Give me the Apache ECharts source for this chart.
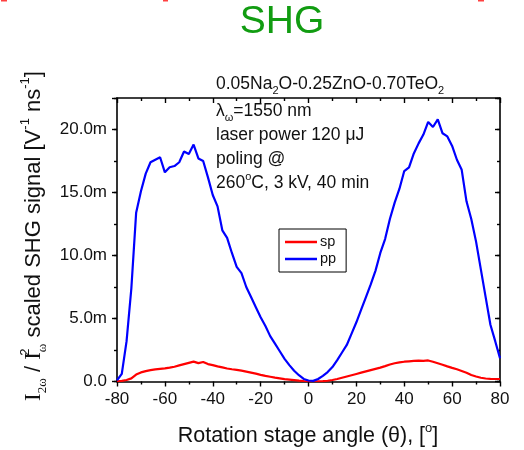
<!DOCTYPE html>
<html>
<head>
<meta charset="utf-8">
<script src="https://cdn.jsdelivr.net/npm/echarts@6/dist/echarts.min.js"></script>
<style>
  html, body { margin: 0; padding: 0; background: #fff; }
  #chart { width: 524px; height: 450px; }
</style>
</head>
<body>
<div id="chart"></div>
<script>
// Rotation angle (degrees), 2° steps
const angles = [
  -80, -78, -76, -74, -72, -70, -68, -66, -64, -62, -60, -58, -56, -54, -52, -50, -48, -46, -44, -42, -40,
  -38, -36, -34, -32, -30, -28, -26, -24, -22, -20, -18, -16, -14, -12, -10, -8, -6, -4, -2, 0,
  2, 4, 6, 8, 10, 12, 14, 16, 18, 20, 22, 24, 26, 28, 30, 32, 34, 36, 38, 40,
  42, 44, 46, 48, 50, 52, 54, 56, 58, 60, 62, 64, 66, 68, 70, 72, 74, 76, 78, 80
];

// Scaled SHG signal, in units of 1e-3 (V^-1 ns^-1)
const sp = [
  0.02, 0.05, 0.12, 0.25, 0.55, 0.72, 0.82, 0.90, 0.96, 1.00, 1.04, 1.10, 1.17, 1.28, 1.38, 1.48, 1.58, 1.46, 1.55, 1.38, 1.30,
  1.20, 1.12, 1.03, 0.97, 0.92, 0.86, 0.78, 0.70, 0.62, 0.53, 0.45, 0.38, 0.31, 0.25, 0.19, 0.15, 0.11, 0.07, 0.04, 0.02,
  0.02, 0.02, 0.03, 0.06, 0.12, 0.20, 0.30, 0.40, 0.50, 0.60, 0.70, 0.80, 0.90, 1.00, 1.10, 1.22, 1.35, 1.45, 1.52, 1.57,
  1.60, 1.63, 1.65, 1.64, 1.67, 1.57, 1.45, 1.33, 1.20, 1.08, 0.97, 0.84, 0.70, 0.52, 0.40, 0.30, 0.24, 0.21, 0.20, 0.20
];

const pp = [
  0.10, 0.60, 3.20, 7.40, 13.40, 15.10, 16.50, 17.40, 17.60, 17.80, 16.60, 17.00, 17.10, 17.40, 18.25, 18.05, 18.80, 17.70, 17.50, 16.20, 14.80,
  13.90, 12.00, 11.40, 10.20, 9.10, 8.60, 7.50, 6.70, 5.90, 5.10, 4.40, 3.60, 3.00, 2.40, 1.80, 1.30, 0.85, 0.50, 0.20, 0.08,
  0.05, 0.20, 0.45, 0.75, 1.15, 1.70, 2.30, 2.90, 3.80, 4.70, 5.70, 6.70, 7.70, 8.80, 10.20, 11.30, 12.90, 14.20, 15.30, 16.70,
  17.00, 18.10, 18.90, 19.60, 20.60, 20.20, 20.80, 19.70, 19.45, 18.70, 17.60, 16.80, 14.30, 12.90, 11.10, 8.90, 6.70, 4.50, 3.20, 1.85
];

// Axis ticks
const xTicks = [-80, -60, -40, -20, 0, 20, 40, 60, 80];
const yTicks = [0, 5, 10, 15, 20];

const SANS = '"Liberation Sans", Arial, sans-serif';
const SERIF = '"Liberation Serif", "Times New Roman", serif';

const chart = echarts.init(document.getElementById('chart'), null, { renderer: 'canvas' });

const pairs = (ys) => angles.map((a, i) => [a, ys[i]]);

const frameLine = { show: true, onZero: false, lineStyle: { color: '#000', width: 1.6 } };
const tickStyle = { color: '#000', width: 1.4 };

const yMajor = {
  type: 'value', min: 0, max: 22.5, interval: 5,
  splitLine: { show: false }
};
const yMinor = {
  type: 'value', min: 0, max: 22.5, interval: 2.5,
  splitLine: { show: false },
  axisLine: { show: false, onZero: false },
  axisLabel: { show: false }
};

const option = {
  animation: false,
  backgroundColor: '#fff',
  grid: { left: 117, right: 24, top: 98, bottom: 68.5, containLabel: false },
  xAxis: [
    {
      type: 'value', min: -80, max: 80, interval: 20, position: 'bottom',
      axisLine: frameLine,
      axisTick: { show: true, length: 5, inside: false, lineStyle: tickStyle },
      minorTick: { show: true, splitNumber: 2, length: 3, lineStyle: tickStyle },
      axisLabel: {
        margin: 9, color: '#111', fontFamily: SANS, fontSize: 17,
        customValues: xTicks
      },
      splitLine: { show: false },
      minorSplitLine: { show: false }
    },
    {
      type: 'value', min: -80, max: 80, interval: 20, position: 'top',
      axisLine: frameLine,
      axisTick: { show: true, length: 5, inside: true, lineStyle: tickStyle },
      minorTick: { show: true, splitNumber: 2, length: 3, lineStyle: tickStyle },
      axisLabel: { show: false },
      splitLine: { show: false }
    }
  ],
  yAxis: [
    Object.assign({}, yMajor, {
      position: 'left',
      axisLine: frameLine,
      axisTick: { show: true, length: 5, inside: false, lineStyle: tickStyle },
      axisLabel: {
        margin: 10, color: '#111', fontFamily: SANS, fontSize: 17,
        customValues: yTicks,
        formatter: (v) => (v === 0 ? '0.0' : v.toFixed(1) + 'm')
      }
    }),
    Object.assign({}, yMajor, {
      position: 'right',
      axisLine: frameLine,
      axisTick: { show: true, length: 5, inside: true, lineStyle: tickStyle },
      axisLabel: { show: false }
    }),
    Object.assign({}, yMinor, {
      position: 'left',
      axisTick: { show: true, length: 3, inside: false, lineStyle: tickStyle }
    }),
    Object.assign({}, yMinor, {
      position: 'right',
      axisTick: { show: true, length: 3, inside: true, lineStyle: tickStyle }
    })
  ],
  legend: {
    left: 279, top: 229,
    orient: 'vertical',
    itemWidth: 32, itemHeight: 2.5, itemGap: 1,
    padding: [5, 10, 5, 6],
    borderColor: '#000', borderWidth: 1,
    backgroundColor: '#fff',
    textStyle: { fontFamily: SANS, fontSize: 14.5, color: '#111', lineHeight: 16, padding: [0, 0, 0, -2] },
    data: [
      { name: 'sp', icon: 'rect', itemStyle: { color: '#ff0000' } },
      { name: 'pp', icon: 'rect', itemStyle: { color: '#0000ff' } }
    ]
  },
  series: [
    {
      name: 'sp', type: 'line', xAxisIndex: 0, yAxisIndex: 0,
      data: pairs(sp), symbol: 'none', showSymbol: false,
      lineStyle: { color: '#ff0000', width: 2.2 }, itemStyle: { color: '#ff0000' }
    },
    {
      name: 'pp', type: 'line', xAxisIndex: 0, yAxisIndex: 0,
      data: pairs(pp), symbol: 'none', showSymbol: false,
      lineStyle: { color: '#0000ff', width: 2.2 }, itemStyle: { color: '#0000ff' }
    }
  ],
  graphic: [
    // small red marks along the top edge
    { type: 'rect', shape: { x: 1, y: 0, width: 6, height: 1.5 }, style: { fill: '#ff4040' } },
    { type: 'rect', shape: { x: 163, y: 0, width: 5, height: 1.5 }, style: { fill: '#ff4040' } },
    { type: 'rect', shape: { x: 478, y: 0, width: 6, height: 1.5 }, style: { fill: '#ff4040' } },
    // heading
    {
      type: 'text', x: 282, y: 22,
      style: {
        text: 'SHG', fill: '#119c11', font: '39px ' + SANS,
        textAlign: 'center', textVerticalAlign: 'middle'
      }
    },
    // composition and measurement notes
    {
      type: 'text', x: 216, y: 84,
      style: {
        text: '{m|0.05Na}{s|2}{m|O-0.25ZnO-0.70TeO}{s|2}',
        textVerticalAlign: 'middle',
        rich: {
          m: { fontFamily: SANS, fontSize: 17.5, fill: '#111', lineHeight: 24 },
          s: { fontFamily: SANS, fontSize: 11, fill: '#111', verticalAlign: 'bottom', lineHeight: 20 }
        }
      }
    },
    {
      type: 'text', x: 216, y: 111,
      style: {
        text: '{m|λ}{s|ω}{m|=1550 nm}',
        textVerticalAlign: 'middle',
        rich: {
          m: { fontFamily: SANS, fontSize: 17.5, fill: '#111', lineHeight: 24 },
          s: { fontFamily: SANS, fontSize: 11, fill: '#111', verticalAlign: 'bottom', lineHeight: 20 }
        }
      }
    },
    {
      type: 'text', x: 216, y: 135,
      style: { text: 'laser power 120 μJ', font: '17.5px ' + SANS, fill: '#111', textVerticalAlign: 'middle' }
    },
    {
      type: 'text', x: 216, y: 159,
      style: { text: 'poling @', font: '17.5px ' + SANS, fill: '#111', textVerticalAlign: 'middle' }
    },
    {
      type: 'text', x: 216, y: 183,
      style: {
        text: '{m|260}{p|o}{m|C, 3 kV, 40 min}',
        textVerticalAlign: 'middle',
        rich: {
          m: { fontFamily: SANS, fontSize: 17.5, fill: '#111', lineHeight: 24 },
          p: { fontFamily: SANS, fontSize: 11, fill: '#111', verticalAlign: 'top', lineHeight: 20 }
        }
      }
    },
    // x axis title
    {
      type: 'text', x: 308, y: 436,
      style: {
        text: '{m|Rotation stage angle (θ), [}{p|o}{m|]}',
        textAlign: 'center', textVerticalAlign: 'middle',
        rich: {
          m: { fontFamily: SANS, fontSize: 21.5, fill: '#111', lineHeight: 28 },
          p: { fontFamily: SANS, fontSize: 13, fill: '#111', verticalAlign: 'top', lineHeight: 24 }
        }
      }
    },
    // y axis title (rotated)
    {
      type: 'text', x: 34, y: 236, rotation: Math.PI / 2,
      style: {
        text: '{i|I}{s|2ω}{m| / }{i|I}{u|2}{s|ω}{m| scaled SHG signal [V}{p|-1}{m| ns}{p|-1}{m|]}',
        textAlign: 'center', textVerticalAlign: 'middle',
        rich: {
          m: { fontFamily: SANS, fontSize: 22, fill: '#111', lineHeight: 30 },
          i: { fontFamily: SERIF, fontSize: 23, fill: '#111', lineHeight: 30 },
          s: { fontFamily: SERIF, fontSize: 13, fill: '#111', verticalAlign: 'bottom', lineHeight: 24 },
          u: { fontFamily: SANS, fontSize: 13, fill: '#111', verticalAlign: 'top', lineHeight: 26, width: 0 },
          p: { fontFamily: SANS, fontSize: 13, fill: '#111', verticalAlign: 'top', lineHeight: 26 }
        }
      }
    }
  ]
};

chart.setOption(option);
</script>
</body>
</html>
